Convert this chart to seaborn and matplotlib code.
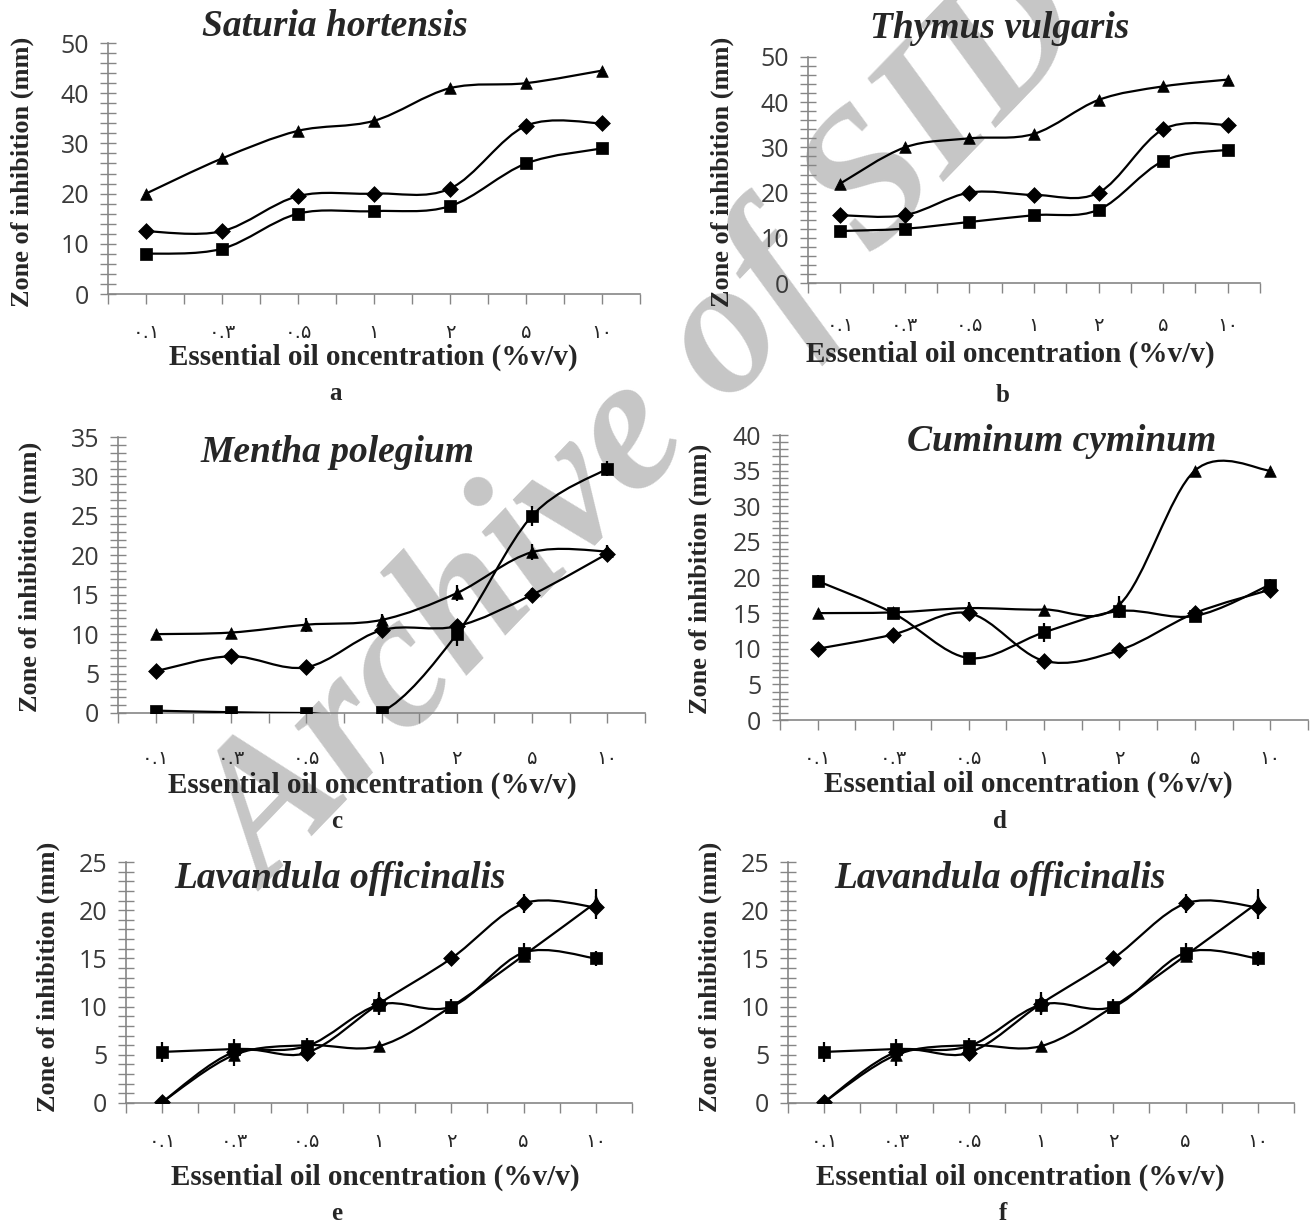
import numpy as np
import matplotlib
matplotlib.use("Agg")
import matplotlib.pyplot as plt
from matplotlib.path import Path
from matplotlib.patches import PathPatch
from matplotlib.ticker import MultipleLocator
import seaborn as sns

W, H = 1311, 1224

# x categories (essential oil concentration, % v/v)
CONC_LABELS = ["۰.۱", "۰.۳", "۰.۵", "۱", "۲", "۵", "۱۰"]

# a - Saturia hortensis
SAT_TRI = [20, 27, 32.5, 34.5, 41, 42, 44.5]
SAT_DIA = [12.5, 12.5, 19.5, 20, 21, 33.5, 34]
SAT_SQR = [8, 9, 16, 16.5, 17.5, 26, 29]

# b - Thymus vulgaris
THY_TRI = [22, 30, 32, 33, 40.5, 43.5, 45]
THY_DIA = [15, 15, 20, 19.5, 20, 34, 35]
THY_SQR = [11.5, 12, 13.5, 15, 16.2, 27, 29.5]

# c - Mentha polegium
MEN_TRI = [10, 10.2, 11.2, 11.8, 15.2, 20.4, 20.5]
MEN_DIA = [5.3, 7.2, 5.8, 10.5, 11, 15, 20.2]
MEN_SQR = [0.3, 0.1, 0, 0.1, 10, 25, 31]
MEN_TRI_ERR = [0, 0, 0.9, 0.8, 1, 1, 0.8]
MEN_DIA_ERR = [0, 0, 0, 0, 0.8, 0.8, 0.8]
MEN_SQR_ERR = [0, 0, 0, 0, 1.5, 1.3, 1]

# d - Cuminum cyminum
CUM_TRI = [15, 15.1, 15.7, 15.5, 16.2, 35, 35]
CUM_DIA = [10, 12, 15, 8.3, 9.8, 15, 18.3]
CUM_SQR = [19.5, 15, 8.7, 12.3, 15.3, 14.6, 19]
CUM_TRI_ERR = [0, 0, 0.8, 0, 1.2, 0, 0]
CUM_DIA_ERR = [0, 0.8, 0, 0, 0, 0, 0.6]
CUM_SQR_ERR = [0.8, 0, 0, 1.3, 1, 0, 0.8]

# e, f - Lavandula officinalis
LAV_TRI = [0.1, 5, 6, 5.9, 10, 15.3, 20.8]
LAV_DIA = [0.1, 5.3, 5.2, 10.3, 15, 20.7, 20.3]
LAV_SQR = [5.3, 5.6, 5.9, 10.2, 10, 15.6, 15]
LAV_TRI_ERR = [0, 1.2, 0, 0, 0, 0, 1.4]
LAV_DIA_ERR = [0, 0, 0.8, 1.2, 0, 1, 1.2]
LAV_SQR_ERR = [1, 1, 0.8, 1, 0.8, 1, 0.8]

sns.set_style("white")
plt.rcParams["font.family"] = ["Liberation Serif", "DejaVu Sans"]

SPINE = "#868686"


def smooth_path(x, y):
    # Excel-like smoothed line: cubic bezier through the points
    pts = np.column_stack([x, y]).astype(float)
    n = len(pts)
    verts = [pts[0]]
    codes = [Path.MOVETO]
    for i in range(n - 1):
        p0 = pts[max(i - 1, 0)]
        p1 = pts[i]
        p2 = pts[i + 1]
        p3 = pts[min(i + 2, n - 1)]
        c1 = p1 + (p2 - p0) / 6.0
        c2 = p2 - (p3 - p1) / 6.0
        verts += [c1, c2, p2]
        codes += [Path.CURVE4] * 3
    return Path(verts, codes)


def draw_series(ax, vals, marker, size, err=None):
    x = np.arange(len(vals))
    ax.add_patch(PathPatch(smooth_path(x, vals), fill=False, edgecolor="black",
                           lw=1.6, zorder=3))
    if err is not None:
        ax.errorbar(x, vals, yerr=err, fmt="none", ecolor="black", elinewidth=1.6,
                    capsize=0, zorder=3)
    sns.scatterplot(x=x, y=vals, marker=marker, s=size, color="black",
                    edgecolor="black", linewidth=0.5, ax=ax, zorder=4, legend=False)


def make_panel(fig, box, ymax, major, minor, pad):
    left, right, zero, top = box
    ax = fig.add_axes([left / W, 1 - zero / H, (right - left) / W, (zero - top) / H])
    ax.set_facecolor("none")
    ax.set_xlim(-0.5, 6.5)
    ax.set_ylim(0, ymax)
    for s in ["top", "right"]:
        ax.spines[s].set_visible(False)
    for s in ["left", "bottom"]:
        ax.spines[s].set_color(SPINE)
        ax.spines[s].set_linewidth(1.2)
    ax.yaxis.set_major_locator(MultipleLocator(major))
    ax.yaxis.set_minor_locator(MultipleLocator(minor))
    ax.tick_params(axis="y", which="both", direction="inout", length=11, width=1,
                   color=SPINE, left=True, labelsize=18, labelcolor="#3a3a3a", pad=8)
    for t in ax.get_yticklabels():
        t.set_family("Open Sans")
    ax.set_xticks(np.arange(-0.5, 7, 1))
    ax.set_xticklabels([])
    ax.set_xticks(np.arange(len(CONC_LABELS)), minor=True)
    ax.set_xticklabels(CONC_LABELS, minor=True, family="DejaVu Sans", fontsize=14)
    ax.tick_params(axis="x", which="both", direction="out", length=7, width=1,
                   color=SPINE, bottom=True)
    ax.tick_params(axis="x", which="minor", pad=pad)
    return ax


def px(x, y):
    return x / W, 1 - y / H


fig = plt.figure(figsize=(W / 100, H / 100), dpi=100)
fig.patch.set_facecolor("white")

# watermark behind the panels
fig.text(*px(648, 430), "Archive of SID", rotation=46, rotation_mode="anchor",
         ha="center", va="center", fontsize=138, color="#c6c6c6",
         weight="bold", style="italic", zorder=-5)

panels = [
    dict(box=(108, 640, 294, 43), ymax=50, major=10, minor=2, pad=14,
         title="Saturia hortensis", tpos=(335, 27), xl=(373, 357), yl=(22, 172),
         letter="a", lpos=(335, 393),
         series=[(SAT_TRI, None), (SAT_DIA, None), (SAT_SQR, None)]),
    dict(box=(808, 1260, 283, 57), ymax=50, major=10, minor=2, pad=17,
         title="Thymus vulgaris", tpos=(1000, 28), xl=(1010, 354), yl=(722, 172),
         letter="b", lpos=(1003, 395),
         series=[(THY_TRI, None), (THY_DIA, None), (THY_SQR, None)]),
    dict(box=(118, 645, 713, 437), ymax=35, major=5, minor=1, pad=19,
         title="Mentha polegium", tpos=(337, 453), xl=(372, 785), yl=(30, 577),
         letter="c", lpos=(337, 822),
         series=[(MEN_TRI, MEN_TRI_ERR), (MEN_DIA, MEN_DIA_ERR), (MEN_SQR, MEN_SQR_ERR)]),
    dict(box=(780, 1308, 720, 435), ymax=40, major=5, minor=1, pad=14,
         title="Cuminum cyminum", tpos=(1062, 441), xl=(1028, 784), yl=(700, 579),
         letter="d", lpos=(1000, 822),
         series=[(CUM_TRI, CUM_TRI_ERR), (CUM_DIA, CUM_DIA_ERR), (CUM_SQR, CUM_SQR_ERR)]),
    dict(box=(126, 632, 1103, 862), ymax=25, major=5, minor=1, pad=14,
         title="Lavandula officinalis", tpos=(340, 878), xl=(375, 1177), yl=(48, 977),
         letter="e", lpos=(337, 1213),
         series=[(LAV_TRI, LAV_TRI_ERR), (LAV_DIA, LAV_DIA_ERR), (LAV_SQR, LAV_SQR_ERR)]),
    dict(box=(788, 1294, 1103, 862), ymax=25, major=5, minor=1, pad=14,
         title="Lavandula officinalis", tpos=(1000, 878), xl=(1020, 1177), yl=(710, 977),
         letter="f", lpos=(1003, 1213),
         series=[(LAV_TRI, LAV_TRI_ERR), (LAV_DIA, LAV_DIA_ERR), (LAV_SQR, LAV_SQR_ERR)]),
]

markers = [("^", 70), ("D", 65), ("s", 80)]

for p in panels:
    ax = make_panel(fig, p["box"], p["ymax"], p["major"], p["minor"], p["pad"])
    for (vals, err), (mk, sz) in zip(p["series"], markers):
        draw_series(ax, vals, mk, sz, err)
    ax.set_xlabel("Essential oil oncentration (%v/v)", fontsize=21, weight="bold",
                  va="center")
    ax.xaxis.set_label_coords(*px(*p["xl"]), transform=fig.transFigure)
    ax.set_ylabel("Zone of inhibition (mm)", fontsize=19, weight="bold", va="center")
    ax.yaxis.set_label_coords(*px(*p["yl"]), transform=fig.transFigure)
    fig.text(*px(*p["tpos"]), p["title"], ha="center", va="center", fontsize=27,
             weight="bold", style="italic")
    fig.text(*px(*p["lpos"]), p["letter"], ha="center", va="center", fontsize=18,
             weight="bold")

fig.savefig("out.png", dpi=100, facecolor="white")
